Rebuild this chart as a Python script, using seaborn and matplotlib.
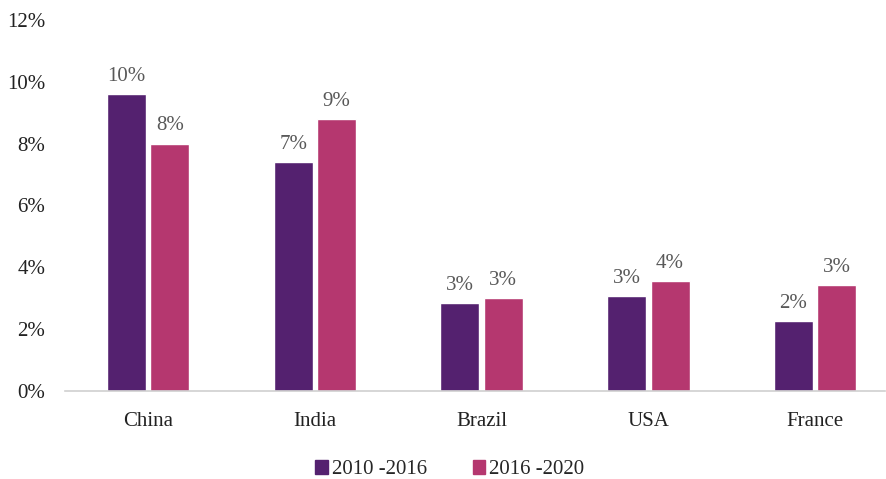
import pandas as pd
import numpy as np
import matplotlib.pyplot as plt
import seaborn as sns
from matplotlib.ticker import FuncFormatter

# data (share, in %)
countries = ["China", "India", "Brazil", "USA", "France"]
periods = ["2010 -2016", "2016 -2020"]
growth_2010_2016 = [9.6, 7.4, 2.84, 3.06, 2.26]
growth_2016_2020 = [8.0, 8.8, 3.0, 3.55, 3.42]

df = pd.DataFrame({
    "country": countries * 2,
    "period": [periods[0]] * len(countries) + [periods[1]] * len(countries),
    "value": growth_2010_2016 + growth_2016_2020,
})

sns.set_theme(style="white")
plt.rcParams["font.family"] = ["Liberation Serif", "DejaVu Serif"]

fig = plt.figure(figsize=(8.87, 4.79), dpi=100)
ax = fig.add_axes([0.073, 0.184, 0.925, 0.774])

palette = {periods[0]: "#54216F", periods[1]: "#B5376F"}
sns.barplot(data=df, x="country", y="value", hue="period", palette=palette,
            width=0.52, gap=0.1, saturation=1, ax=ax, legend=False)

for cont in ax.containers:
    ax.bar_label(cont, fmt="{:.0f}%", padding=6, fontsize=15, color="#595959")

ax.set_ylim(0, 12)
ax.set_yticks(np.arange(0, 13, 2))
ax.yaxis.set_major_formatter(FuncFormatter(lambda v, _: f"{v:.0f}%"))
ax.set_xlim(-0.5, 4.42)
ax.set_xlabel("")
ax.set_ylabel("")
ax.tick_params(axis="y", labelsize=15, colors="#222222", length=0, pad=14)
ax.tick_params(axis="x", labelsize=15, colors="#222222", length=0, pad=15)

for side in ["top", "right", "left"]:
    ax.spines[side].set_visible(False)
ax.spines["bottom"].set_color("#d0d0d0")
ax.spines["bottom"].set_linewidth(1.2)

handles = [plt.Rectangle((0, 0), 1, 1, color=palette[p]) for p in periods]
fig.legend(handles, periods, loc="lower center", bbox_to_anchor=(0.507, -0.04),
           ncol=2, frameon=False, fontsize=15, handlelength=0.6, handleheight=0.6,
           handletextpad=0.2, columnspacing=2.2)

plt.savefig("out.png", dpi=100)
plt.close()
